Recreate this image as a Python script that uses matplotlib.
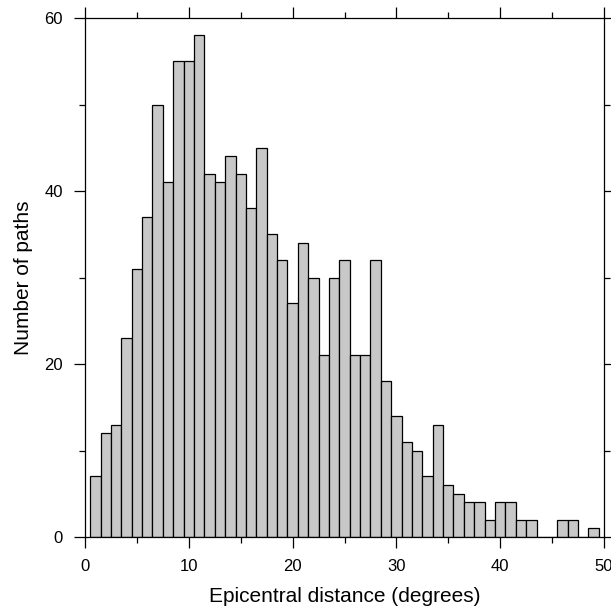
import matplotlib
matplotlib.use('Agg')
import matplotlib.pyplot as plt
import numpy as np

plt.rcParams['font.family'] = ['Liberation Sans', 'DejaVu Sans']

# epicentral distance bins (degrees), 1-degree wide, centred on integers
distance = list(range(1, 50))
paths = [7, 12, 13, 23, 31, 37, 50, 41, 55, 55,
         58, 42, 41, 44, 42, 38, 45, 35, 32, 27,
         34, 30, 21, 30, 32, 21, 21, 32, 18, 14,
         11, 10, 7, 13, 6, 5, 4, 4, 2, 4,
         4, 2, 2, 0, 0, 2, 2, 0, 1]

fig = plt.figure(figsize=(6.11, 6.10), dpi=100)
ax = fig.add_axes([85/611, 73/610, 519/611, 519/610])

ax.bar(distance, paths, width=1.0, color='#c8c8c8', edgecolor='black', linewidth=0.9)

ax.set_xlim(0, 50)
ax.set_ylim(0, 60)
ax.set_xticks([0, 10, 20, 30, 40, 50])
ax.set_xticks([5, 15, 25, 35, 45], minor=True)
ax.set_yticks([0, 20, 40, 60])
ax.set_yticks([10, 30, 50], minor=True)

ax.tick_params(which='both', direction='out', top=True, right=True,
               labeltop=False, labelright=False, width=0.9, labelsize=12)
ax.tick_params(which='major', length=8, pad=8)
ax.tick_params(which='minor', length=4)
for s in ax.spines.values():
    s.set_linewidth(0.9)

ax.set_xlabel('Epicentral distance (degrees)', fontsize=15, labelpad=9)
ax.set_ylabel('Number of paths', fontsize=15, labelpad=8)

fig.savefig('out.png', dpi=100)
